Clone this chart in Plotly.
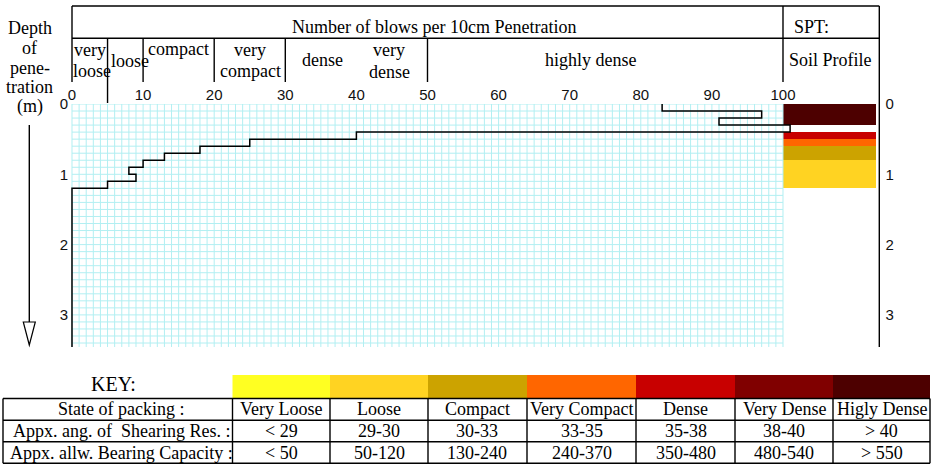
import plotly.graph_objects as go
import numpy as np

W, H = 936, 466

# ---------------- data ----------------
# SPT: number of blows per 10 cm penetration, by depth (m) of the top of each interval
depth_top = [0.0, 0.1, 0.2, 0.3, 0.4, 0.5, 0.6, 0.7, 0.8, 0.9, 1.0, 1.1, 1.2]
blows = [83, 97, 91, 101, 40, 25, 18, 13, 10, 8, 9, 5, 0]
max_depth = 3.457

# Soil profile layers (m)
layer_top = [0.0, 0.4, 0.5, 0.6, 0.8]
layer_bottom = [0.3, 0.5, 0.6, 0.8, 1.2]
layer_state = ["Higly Dense", "Dense", "Very Compact", "Compact", "Loose"]

# Header classes (blows per 10 cm)
class_bounds = [5, 10, 20, 30, 50, 100]

x_ticks = list(range(0, 101, 10))
y_ticks = [0, 1, 2, 3]

# Key table
key_states = ["Very Loose", "Loose", "Compact", "Very Compact", "Dense", "Very Dense", "Higly Dense"]
key_colors = ["#FFFF22", "#FFD322", "#CCA300", "#FF6600", "#C80000", "#800000", "#4D0000"]
key_angle = ["< 29", "29-30", "30-33", "33-35", "35-38", "38-40", "> 40"]
key_bearing = ["< 50", "50-120", "130-240", "240-370", "350-480", "480-540", "> 550"]
row_labels = ["State of packing :", "Appx. ang. of  Shearing Res. :", "Appx. allw. Bearing Capacity :"]

# ---------------- geometry helpers ----------------
SERIF = "Liberation Serif"
SANS = "Liberation Sans"
X0, SX = 72.0, 7.11      # pixel of 0 blows, px per blow
Y0, SY = 104.0, 70.3     # pixel of 0 m, px per m
x_range = [-0.4, 113.43]
dom_x = [(X0 + SX * x_range[0]) / W, (X0 + SX * x_range[1]) / W]
dom_y = [1 - (Y0 + SY * max_depth) / H, 1 - Y0 / H]


def px(x):
    return x / W


def py(y):
    return 1 - y / H


color_of = dict(zip(key_states, key_colors))

fig = go.Figure()

# grid (1 blow x 0.1 m)
gx, gy = [], []
for v in np.arange(0, 101, 1):
    gx += [v, v, None]
    gy += [0, max_depth, None]
for d in np.arange(0, 3.41, 0.1):
    gx += [0, 100, None]
    gy += [d, d, None]
fig.add_trace(go.Scatter(x=gx, y=gy, mode="lines", line=dict(color="#b2eff2", width=1),
                         hoverinfo="skip", showlegend=False))

# soil profile column
centers = [(a + b) / 2 for a, b in zip(layer_top, layer_bottom)]
thick = [b - a for a, b in zip(layer_top, layer_bottom)]
fig.add_trace(go.Bar(y=centers, x=[13.15] * len(centers), base=100, width=thick, orientation="h",
                     marker=dict(color=[color_of[s] for s in layer_state], line=dict(width=0)),
                     showlegend=False, hoverinfo="skip"))

# SPT step line
fig.add_trace(go.Scatter(x=blows + [blows[-1]], y=depth_top + [max_depth], mode="lines",
                         line=dict(color="black", width=1.5, shape="vh"), showlegend=False))

# dummy for right axis
fig.add_trace(go.Scatter(x=[None], y=[None], yaxis="y2", showlegend=False))

shapes = []
LK = dict(color="black", width=1.4)


def hline(x1, x2, y):
    shapes.append(dict(type="line", xref="paper", yref="paper", x0=px(x1), x1=px(x2), y0=py(y), y1=py(y), line=LK))


def vline(x, y1, y2):
    shapes.append(dict(type="line", xref="paper", yref="paper", x0=px(x), x1=px(x), y0=py(y1), y1=py(y2), line=LK))


# header box
hline(72, 879.3, 6)
hline(72, 879.3, 38.3)
vline(72, 6, 82)
vline(879.3, 6, 347)
for b in class_bounds:
    top = 6 if b == 100 else 38.3
    bot = 103 if b == 5 else 82
    shapes.append(dict(type="line", xref="x", yref="paper", x0=b, x1=b, y0=py(top), y1=py(bot), line=LK))

# depth arrow
vline(29.3, 125, 343)
shapes.append(dict(type="path", xref="paper", yref="paper",
                   path=f"M {px(23.3)},{py(322)} L {px(35.3)},{py(322)} L {px(29.3)},{py(345)} Z",
                   line=dict(color="black", width=1.2), fillcolor="white"))

# key swatches + table
col_x = [232.5, 330, 428, 527, 636, 735, 833, 930]
for i, c in enumerate(key_colors):
    shapes.append(dict(type="rect", xref="paper", yref="paper", x0=px(col_x[i]), x1=px(col_x[i + 1]),
                       y0=py(375), y1=py(398.5), fillcolor=c, line=dict(width=0)))
row_y = [398.5, 420.3, 441.7, 463.3]
for y in row_y:
    hline(3, 930, y)
for x in [3] + col_x:
    vline(x, 398.5, 463.3)

ann = []


def text(x, y, s, size=18, font=SERIF, xanchor="center"):
    ann.append(dict(x=px(x), y=py(y), xref="paper", yref="paper", text=s, showarrow=False,
                    xanchor=xanchor, yanchor="middle", font=dict(family=font, size=size, color="black")))


text(434, 27, "Number of blows per 10cm Penetration")
text(792, 27, "SPT:", xanchor="left")
text(830, 60, "Soil Profile")
text(89.5, 50, "very")
text(91.5, 71, "loose")
text(129.7, 61, "loose")
text(178, 49.5, "compact")
text(249.7, 50, "very")
text(250.3, 71.5, "compact")
text(322, 60, "dense")
text(388.5, 50, "very")
text(389, 72, "dense")
text(591, 60, "highly dense")
for s, y in zip(["Depth", "of", "pene-", "tration", "(m)"], [28, 48, 68, 87.5, 107]):
    text(30, y, s)

text(113.7, 384, "KEY:", size=20)
rows = [key_states, key_angle, key_bearing]
for r in range(3):
    yc = (row_y[r] + row_y[r + 1]) / 2
    text(121, yc, row_labels[r])
    for i in range(7):
        text((col_x[i] + col_x[i + 1]) / 2, yc, rows[r][i])

tickfont = dict(family=SANS, size=15, color="#111")
fig.update_layout(
    template="none",
    width=W, height=H, margin=dict(l=0, r=0, t=0, b=0, pad=0, autoexpand=False),
    paper_bgcolor="white", plot_bgcolor="white", showlegend=False,
    xaxis=dict(domain=dom_x, range=x_range, side="top", tickvals=x_ticks, showgrid=False, automargin=False,
               zeroline=False, showline=False, ticks="", tickfont=tickfont, anchor="y", fixedrange=True),
    yaxis=dict(domain=dom_y, range=[max_depth, 0], tickvals=y_ticks, showgrid=False, automargin=False,
               zeroline=False, showline=False, ticks="", tickfont=tickfont, anchor="x"),
    yaxis2=dict(overlaying="y", side="right", anchor="x", range=[max_depth, 0], tickvals=y_ticks,
                automargin=False, ticklabelstandoff=6,
                showgrid=False, zeroline=False, showline=False, ticks="", tickfont=tickfont),
    shapes=shapes, annotations=ann, bargap=0,
)

fig.write_html("out.html")
